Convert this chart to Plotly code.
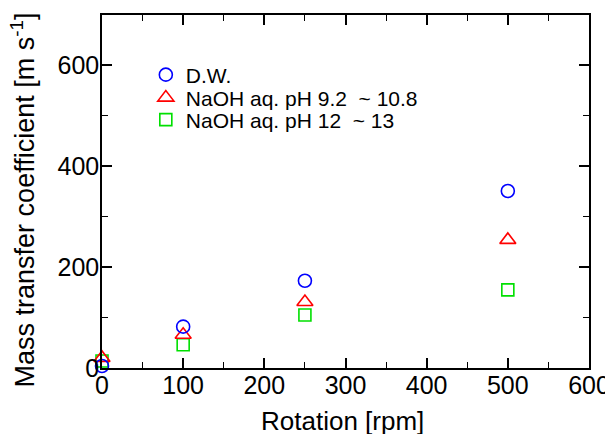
import plotly.graph_objects as go

rotation = [0, 100, 250, 500]
dw = [4, 82, 173, 351]
naoh_mid = [20, 66, 131, 254]
naoh_high = [14, 46, 105, 155]

series_names = ["D.W.", "NaOH aq. pH 9.2 \u00a0~ 10.8", "NaOH aq. pH 12 \u00a0~ 13"]
x_ticks = [0, 100, 200, 300, 400, 500, 600]
y_ticks = [0, 200, 400, 600]
x_title = "Rotation [rpm]"
y_title = "Mass transfer coefficient [m s<sup>-1</sup>]"

FONT = "Liberation Sans, Arial, sans-serif"

fig = go.Figure()
specs = [
    (dw, series_names[0], "circle-open", "#0000ff", 13, "legend"),
    (naoh_mid, series_names[1], "triangle-up-open", "#ff0000", 14, "legend2"),
    (naoh_high, series_names[2], "square-open", "#00e000", 12, "legend3"),
]
for vals, name, sym, col, sz, leg in reversed(specs):
    fig.add_trace(go.Scatter(
        x=rotation, y=vals, mode="markers", name=name, legend=leg,
        marker=dict(symbol=sym, size=sz, color=col, line=dict(width=1.6, color=col)),
        cliponaxis=False,
    ))

axis_common = dict(
    showline=True, linecolor="black", linewidth=1.5, mirror="ticks",
    ticks="inside", ticklen=10, tickwidth=1.5, tickcolor="black",
    showgrid=False, zeroline=False, automargin=False,
    tickfont=dict(family=FONT, size=25, color="black"),
)
fig.update_xaxes(
    range=[0, 600], tickvals=x_ticks, ticklabelstandoff=-6,
    minor=dict(ticks="inside", ticklen=6, tickwidth=1.2, tickcolor="black", dtick=50, showgrid=False),
    **axis_common,
)
fig.update_yaxes(
    range=[0, 700], tickvals=y_ticks, ticklabelstandoff=-4,
    minor=dict(ticks="inside", ticklen=6, tickwidth=1.2, tickcolor="black", dtick=100, showgrid=False),
    **axis_common,
)

fig.add_annotation(
    text=x_title, xref="paper", yref="paper", x=0.493, y=-0.150,
    xanchor="center", yanchor="middle", showarrow=False,
    font=dict(family=FONT, size=26, color="black"),
)
fig.add_annotation(
    text=y_title, xref="paper", yref="paper", x=-0.162, y=0.475,
    xanchor="center", yanchor="middle", showarrow=False, textangle=-90,
    font=dict(family=FONT, size=27, color="black"),
)

leg_common = dict(
    x=0.090, xanchor="left", yanchor="middle",
    font=dict(family=FONT, size=21, color="black"),
    bgcolor="rgba(0,0,0,0)", itemwidth=30, borderwidth=0,
)
fig.update_layout(
    width=605, height=426,
    margin=dict(l=94, r=24, t=7, b=66),
    paper_bgcolor="white", plot_bgcolor="white",
    showlegend=True,
    legend=dict(y=0.830, **leg_common),
    legend2=dict(y=0.765, **leg_common),
    legend3=dict(y=0.7025, **leg_common),
)

fig.write_html("out.html")
